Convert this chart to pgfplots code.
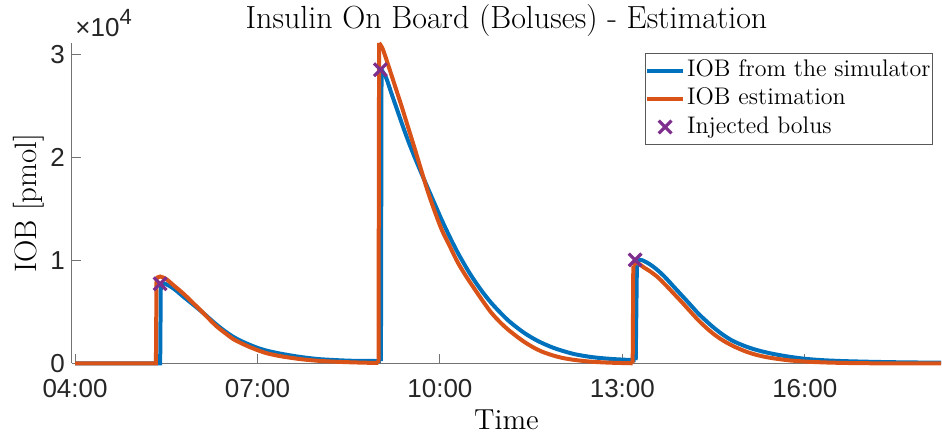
\documentclass[border=0pt]{standalone}
\usepackage{fontspec}
\setsansfont{Liberation Sans}
\usepackage{pgfplots}
\usepackage{pgfplotstable}
\pgfplotsset{compat=1.18}

\definecolor{simblue}{rgb}{0,0.447,0.741}
\definecolor{estorange}{rgb}{0.85,0.325,0.098}
\definecolor{boluspurple}{rgb}{0.494,0.184,0.556}
\definecolor{labelgray}{rgb}{0.15,0.15,0.15}
\definecolor{spinegray}{rgb}{0.45,0.45,0.45}

% short legend samples: a line, or a single mark in the middle
\pgfplotsset{
  linelegend/.style={legend image code/.code={\draw[##1] (0pt,0pt) -- (18pt,0pt);}},
  marklegend/.style={legend image code/.code={\draw[mark repeat=2, mark phase=2, ##1]
    plot coordinates {(0pt,0pt) (9pt,0pt) (18pt,0pt)};}},
  % one piece of a curve: jumps stay sharp, decays are smoothed
  piece/.style={forget plot, restrict x to domain=#1},
}

% time in hours of the day, insulin on board in pmol
\pgfplotstableread{
t      iob
4.00   0
5.40   0
5.41   7600
5.45   7800
5.55   7550
5.65   7150
5.78   6500
5.92   5830
6.06   5150
6.20   4430
6.33   3760
6.47   3120
6.60   2600
6.74   2160
6.88   1800
7.00   1520
7.15   1250
7.30   1050
7.43   900
7.70   640
7.98   440
8.25   340
8.52   270
8.75   250
9.03   240
9.04   28550
9.12   27700
9.20   26300
9.30   24600
9.40   22900
9.50   21300
9.62   19550
9.76   17600
9.90   15700
10.03  13950
10.17  12200
10.30  10700
10.45  9150
10.58  7950
10.72  6800
10.85  5850
11.00  4900
11.13  4150
11.27  3480
11.40  2920
11.55  2380
11.68  1990
11.85  1560
12.00  1260
12.22  900
12.50  620
12.80  450
13.10  350
13.22  330
13.24  9900
13.29  10070
13.35  9980
13.45  9650
13.57  9120
13.70  8400
13.84  7500
13.98  6600
14.12  5700
14.25  4850
14.39  4070
14.52  3400
14.66  2770
14.80  2250
14.94  1870
15.07  1570
15.21  1310
15.35  1100
15.49  920
15.75  650
16.03  440
16.30  320
16.60  240
16.97  180
17.40  130
17.80  100
18.24  80
}\simtable

\pgfplotstableread{
t      iob
4.00   0
5.33   0
5.34   8300
5.40   8450
5.50   8200
5.62   7600
5.78   6800
5.92   6000
6.06   5200
6.20   4350
6.33   3600
6.47   2950
6.60   2380
6.74   1950
6.88   1580
7.00   1300
7.15   1000
7.30   800
7.43   660
7.70   430
7.98   270
8.25   180
8.52   120
8.75   80
8.99   50
9.00   31150
9.05   30700
9.10   29900
9.15   29000
9.26   27000
9.37   25000
9.48   22900
9.59   20800
9.70   18650
9.81   16550
9.92   14700
10.03  13000
10.17  11300
10.30  9750
10.45  8300
10.58  7150
10.72  5950
10.85  4900
11.00  3950
11.13  3250
11.27  2600
11.40  2050
11.55  1520
11.68  1150
11.85  800
12.00  560
12.22  340
12.50  170
12.80  80
13.10  30
13.17  20
13.18  9500
13.21  9750
13.27  9700
13.35  9350
13.45  8980
13.57  8450
13.70  7700
13.84  6830
13.98  5950
14.12  5040
14.25  4200
14.39  3420
14.52  2780
14.66  2220
14.80  1760
14.94  1380
15.07  1080
15.21  830
15.35  640
15.49  500
15.75  300
16.03  180
16.30  110
16.60  60
16.97  30
17.40  10
18.24  0
}\esttable

\pgfplotstableread{
t      iob
5.40   7750
9.02   28550
13.21  10070
}\bolustable

\begin{document}
\begin{tikzpicture}
\begin{axis}[
  name=ax, at={(0,0)}, anchor=south west,
  scale only axis, width=434.5pt, height=160.25pt,
  xmin=3.95, xmax=18.24, ymin=0, ymax=31150,
  axis lines*=left,
  axis line style={draw=spinegray, line width=0.5pt, -},
  tick align=inside, major tick length=4.5pt,
  tick style={draw=spinegray, line width=0.5pt},
  xtick={4,7,10,13,16},
  xticklabels={04:00,07:00,10:00,13:00,16:00},
  ytick={0,10000,20000,30000},
  yticklabels={0,1,2,3},
  scaled y ticks=false,
  /pgf/number format/assume math mode=true,
  ticklabel style={font=\sffamily\fontsize{13}{13}\selectfont, text=labelgray},
  xticklabel style={anchor=base, yshift=-17.25pt},
  title={Insulin On Board (Boluses) - Estimation},
  title style={at={(0.5,1)}, anchor=base, yshift=1pt,
               font=\fontsize{16}{18}\selectfont},
  xlabel={Time},
  xlabel style={at={([yshift=-33.25pt]axis description cs:0.5,0)}, anchor=base,
                font=\fontsize{14.5}{16}\selectfont},
  ylabel={IOB [pmol]},
  ylabel style={at={([xshift=-17.5pt]axis description cs:0,0.5)}, anchor=base,
                font=\fontsize{15.5}{17}\selectfont},
  clip=false,
  legend cell align=left,
  legend style={at={([xshift=-4pt,yshift=-5pt]rel axis cs:1,1)}, anchor=north east,
                font=\fontsize{12}{14}\selectfont, draw=black!65, line width=0.5pt,
                fill=white, inner xsep=0pt, inner ysep=1.5pt, row sep=0pt,
                nodes={inner xsep=1pt, inner ysep=1.1pt, text height=9pt, text depth=2.9pt}},
  extra description/.code={
    \node[anchor=base west, inner sep=0pt, text=labelgray,
          font=\sffamily\fontsize{13}{13}\selectfont]
      at ([xshift=1.5pt,yshift=3.25pt]rel axis cs:0,1)
      {×10\raisebox{0.48em}{\fontsize{11}{11}\selectfont 4}};
  },
]
% simulator curve
\addplot[simblue, line width=2pt, piece=4:5.41]
  table[x=t, y=iob] {\simtable};
\addplot[simblue, line width=2pt, smooth, piece=5.41:9.03]
  table[x=t, y=iob] {\simtable};
\addplot[simblue, line width=2pt, piece=9.03:9.04]
  table[x=t, y=iob] {\simtable};
\addplot[simblue, line width=2pt, smooth, piece=9.04:13.22]
  table[x=t, y=iob] {\simtable};
\addplot[simblue, line width=2pt, piece=13.22:13.24]
  table[x=t, y=iob] {\simtable};
\addplot[simblue, line width=2pt, smooth, piece=13.24:18.24]
  table[x=t, y=iob] {\simtable};
% estimated curve
\addplot[estorange, line width=2pt, piece=4:5.34]
  table[x=t, y=iob] {\esttable};
\addplot[estorange, line width=2pt, smooth, piece=5.34:8.99]
  table[x=t, y=iob] {\esttable};
\addplot[estorange, line width=2pt, piece=8.99:9.00]
  table[x=t, y=iob] {\esttable};
\addplot[estorange, line width=2pt, smooth, piece=9.00:13.17]
  table[x=t, y=iob] {\esttable};
\addplot[estorange, line width=2pt, piece=13.17:13.18]
  table[x=t, y=iob] {\esttable};
\addplot[estorange, line width=2pt, smooth, piece=13.18:18.24]
  table[x=t, y=iob] {\esttable};
% legend entries
\addlegendimage{simblue, line width=2pt, linelegend}
\addlegendentry{IOB from the simulator}
\addlegendimage{estorange, line width=2pt, linelegend}
\addlegendentry{IOB estimation}
\addplot[boluspurple, only marks, mark=x, mark size=4.5pt, line width=1.6pt, marklegend]
  table[x=t, y=iob] {\bolustable};
\addlegendentry{Injected bolus}
\end{axis}
\pgfresetboundingbox
\path[use as bounding box] (-36pt,-34.75pt) rectangle (435pt,181.75pt);
\end{tikzpicture}
\end{document}
